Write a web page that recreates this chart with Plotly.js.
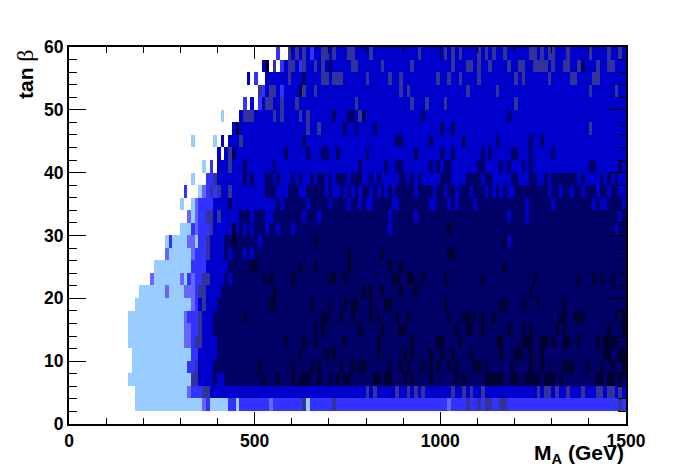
<!DOCTYPE html>
<html><head><meta charset="utf-8">
<script src="https://cdn.plot.ly/plotly-3.0.1.min.js"></script>
<style>html,body{margin:0;padding:0;background:#fff}#c{width:696px;height:472px}</style>
</head><body><div id="c"></div>
<script>
const L=1,P=2,B=3,M=4,G=5,N=6,D=7;
const levelColors=['#99ccff','#6666ff','#3333ff','#0000cc','#333399','#000066','#000033'];
// each entry: [level, fromBin, toBin] or [level, bin] or [level, [bins...]]; later entries overwrite earlier ones
const tb02=[[L,18,35],[P,36],[B,37],[L,38,42],[B,43,44],[L,45],[B,46,53],[P,54],[B,55,150],[G,63],[L,64],[G,[71,107,110,112,113,116,117,148]],[P,102]];
const tb04=[[L,18,31],[P,32],[B,33,35],[G,36,37],[M,38,150],[G,[80,82,88,91,93,95,103,106,108,111,126,128,129,131,134,138,142,143,145,146,148]]];
const tb06=[[L,16,32],[G,33,34],[M,35,38],[N,39],[M,40,41],[N,42,150],[D,[52,56,60,62,63,64,67,70,72,74,75,82,83,85,86,90,92,97,104,106,112,113,114,115,116,119,120,123,124,125,126,128,129,130,132,142,143,145,146,148]]];
const tb08=[[L,17,31],[B,32,33],[G,34],[M,35,38],[N,39,150],[D,[51,60,65,67,73,76,78,79,86,89,91,95,97,99,102,104,109,110,112,119,124,127,129,133,134,135,139,143,146,149,150]]];
const tb10=[[L,17,32],[B,33,34],[M,35,39],[N,40,150],[D,[62,69,71,83,90,92,97,100,103,108,116,120,121,124,127,144,145,148,149,150]]];
const tb12=[[L,16,30],[P,31,32],[B,33],[G,34,35],[M,36,39],[N,40,150],[D,[58,63,66,74,83,92,99,100,105,115,116,122,123,124,127,128,130,133,134,137,142,144,145,146,147]]];
const tb14=[[L,16,30],[P,31,32],[B,33,34],[G,35],[M,36,38],[N,39,150],[D,[66,68,78,84,89,90,104,107,108,111,118,122,124,131,133,145,149,150]]];
const tb16=[[L,16,30],[P,31],[B,32,34],[G,35],[M,36,38],[N,39,150],[D,[47,68,69,73,76,81,83,88,91,102,106,107,109,111,114,132,133,136,137,138,147,149,150]]];
const tb18=[[L,18,32],[P,33],[B,34],[M,35],[G,36],[M,37,39],[N,40,150],[D,[54,55,65,70,74,76,77,81,85,86,101,116,117,122,126,133]]];
const tb20=[[L,19,25],[P,26],[L,27,30],[P,31,33],[B,34],[G,35,36],[M,37,40],[N,41,150],[D,[55,79,81,84,89,93,124]]];
const tb22=[[P,22],[L,23,29],[P,30],[L,31],[B,32],[P,33],[B,34,35],[G,36,37],[M,38,41],[N,42],[M,43],[N,44,150],[D,[52,54,60,70,71,74,87,88,91,92,95,101,111,125,137,141,143,146]]];
const tb24=[[L,23,32],[B,33,36],[M,37,42],[N,43,150],[D,[49,50,62,66,75,86,89,117]]];
const tb26=[[P,26],[L,27,32],[P,33],[B,34,36],[G,37],[M,38,41],[N,42],[M,43],[N,44,46],[M,47],[N,48],[M,49],[N,50,150],[D,[75,84,102,103]]];
const tb28=[[L,26],[B,27],[L,28,31],[P,32,33],[L,34],[B,35,36],[G,37],[M,38,41],[N,42,150],[D,[44,66,117]],[M,[51,118]]];
const tb30=[[L,30,32],[B,33],[P,34],[B,35,37],[G,38],[M,39,43],[D,44],[M,45],[N,46],[M,47],[N,48],[M,49],[N,50,52],[M,53],[N,54,55],[M,56],[N,57,59],[M,60],[N,61,150],[M,[86,147]],[D,102]];
const tb32=[[P,32],[L,33],[P,34],[B,35,36],[G,37,38],[M,39],[G,40],[M,41,45],[N,46,48],[M,49],[N,50,52],[M,53,54],[N,55,62],[M,63],[N,64,66],[M,67],[N,68,150],[M,[86,93,118,123,148]]];
const tb34=[[L,30],[L,33],[P,34],[B,35,38],[M,39,42],[N,43],[M,44,55],[N,56],[M,57],[N,58,63],[M,64],[N,65,69],[M,70],[N,71,74],[M,75],[N,76,77],[M,78],[N,79],[M,80,81],[N,82,86],[M,87,88],[N,89,150],[M,[97,98,102,104,109,123,130,141,143,144,149,150]]];
const tb36=[[B,31],[L,35],[P,36],[B,37],[G,38],[B,39],[G,40],[M,41,42],[G,43],[M,44,52],[N,53,55],[M,56,58],[N,59,61],[M,62,63],[N,64,68],[M,69],[N,70],[M,71,72],[N,73],[M,74],[N,75],[M,76],[N,77],[M,78],[N,79,80],[M,81],[N,82],[M,83],[N,84],[M,85],[N,86],[M,87],[N,88,92],[M,93],[N,94,150],[M,[98,101,104,108,112,114,116,118,119,129,132,135,138,142,145,148,149,150]]];
const tb38=[[L,33],[B,37,38],[G,39],[M,40,150],[N,[47,49,53,54,56,60,62,65,67,68,70,72,73,74,76,77,78,81,83,89,90,92,94,100,101,102,107,108,109,110,112,113,119,120,124,125,128,130,131,132,133,134,135,136,138,143,145,147]]];
const tb40=[[L,36],[B,38],[M,40,150],[G,43],[N,[47,55,78,85,88,89,97,99,101,102,110,111,116,118,122,124,140,141,148]]];
const tb42=[[M,40],[M,42],[G,43],[N,44],[M,45,150],[N,[58,64,68,69,72,80,93,100,103,111,113,119,120,124,130]]];
const tb44=[[L,33],[L,39],[M,41],[M,43,45],[G,46],[M,47,150],[N,[63,88,89,97,106,115,124,127]]];
const tb46=[[M,44],[D,45],[M,46,150],[G,[64,67,140]],[N,[74,77,82,100,103]]];
const tb48=[[L,41],[M,46],[G,47,49],[M,50,150],[G,[55,57,62,64,78]],[N,[71,75,76,79,95,118]]];
const tb50=[[B,47],[M,49],[B,51],[M,52],[G,53,54],[M,55,150],[G,[57,61,77,92,96,101,120]]];
const tb52=[[G,51],[B,52],[M,53],[G,54,55],[M,56],[B,57],[M,58,150],[D,62],[G,[63,66,89,91,107,115,140,147]]];
const tb54=[[M,48],[B,50],[M,53,150],[G,[59,68,69,71,72,73,80,86,89,99,102,105,110,120,122,129,135,136,141,142]],[N,63]];
const tb56=[[M,52],[D,53],[G,55],[B,57],[M,58],[G,59,60],[M,61],[B,62],[G,63],[M,64,150],[G,[66,68,76,77,84,92,103,107,108,110,113,118,121,122,125,126,127,128,130,133,134,137,142,145,146]],[N,[70,138]]];
const tb58=[[B,56],[G,59],[M,60],[G,61],[M,62],[G,63],[M,64],[B,65],[M,66,150],[G,[68,69,71,75,76,81,94,101,103,105,110,112,114,117,124,125,127,129,130,134,140,145,148]]];
const tanBetaRows=[tb02,tb04,tb06,tb08,tb10,tb12,tb14,tb16,tb18,tb20,tb22,tb24,tb26,tb28,tb30,tb32,tb34,tb36,tb38,tb40,tb42,tb44,tb46,tb48,tb50,tb52,tb54,tb56,tb58];
const xTicks=[0,500,1000,1500];
const yTicks=[0,10,20,30,40,50,60];

const z=tanBetaRows.map(entries=>{
  const r=new Array(151).fill(null);
  entries.forEach(e=>{
    const lvl=e[0],a=e[1],b=e[2];
    if(Array.isArray(a)) a.forEach(c=>{r[c]=lvl;});
    else for(let c=a;c<=(b===undefined?a:b);c++) r[c]=lvl;
  });
  return r;
});
const cs=[];
levelColors.forEach((col,i)=>{cs.push([i/7,col]);cs.push([(i+1)/7,col]);});

const axisCommon={showgrid:false,zeroline:false,showline:true,linecolor:'#000',linewidth:2,mirror:'allticks',
  ticks:'inside',tickcolor:'#000',tickwidth:1,
  tickfont:{family:'Liberation Sans, Arial, sans-serif',size:17.5,color:'#000',weight:700}};
const W=557,H=377;
const layout={
  width:696,height:472,margin:{l:69,r:70,t:47,b:48,pad:0},
  paper_bgcolor:'#fff',plot_bgcolor:'#fff',showlegend:false,
  xaxis:Object.assign({},axisCommon,{range:[0,1500],tickmode:'array',tickvals:xTicks,ticktext:xTicks.map(String),ticklen:12,
    minor:{dtick:100,ticks:'inside',ticklen:6,tickcolor:'#000',tickwidth:1,showgrid:false}}),
  yaxis:Object.assign({},axisCommon,{range:[0,60],tickmode:'array',tickvals:yTicks,ticktext:yTicks.map(String),ticklen:17,
    minor:{dtick:2,ticks:'inside',ticklen:8,tickcolor:'#000',tickwidth:1,showgrid:false}}),
  annotations:[
    {xref:'paper',yref:'paper',x:1,y:(424-469)/H,xanchor:'right',yanchor:'bottom',showarrow:false,
     text:'<b>M<sub>A</sub> (GeV)</b>',font:{family:'Liberation Sans, Arial, sans-serif',size:21,color:'#000'}},
    {xref:'paper',yref:'paper',x:(25-69)/W,y:(424-47)/H,xanchor:'center',yanchor:'top',showarrow:false,textangle:-90,
     text:'<b>tan</b> <span style="font-family:Liberation Serif;font-size:24px">β</span>',font:{family:'Liberation Sans, Arial, sans-serif',size:21,color:'#000'}}
  ]
};
Plotly.newPlot('c',[{type:'heatmap',x0:3.5,dx:10,y0:3,dy:2,z:z,zmin:0.5,zmax:7.5,zsmooth:false,colorscale:cs,showscale:false,hoverongaps:false}],layout,{staticPlot:true,displayModeBar:false});
</script></body></html>
